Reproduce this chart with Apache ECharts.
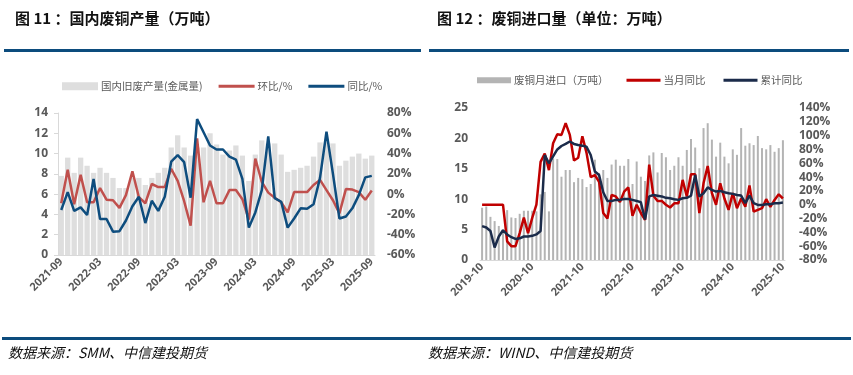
<!DOCTYPE html>
<html>
<head>
<meta charset="utf-8">
<script src="https://cdn.jsdelivr.net/npm/echarts@6/dist/echarts.min.js"></script>
<style>
html,body{margin:0;padding:0;background:#fff;}
#main{width:853px;height:375px;}
</style>
</head>
<body>
<div id="main"></div>
<script>
// month labels
function months(y, m, n) {
    var out = [];
    for (var i = 0; i < n; i++) {
        out.push(y + '-' + (m < 10 ? '0' + m : m));
        m++;
        if (m > 12) { m = 1; y++; }
    }
    return out;
}

// 图11 国内废铜产量 2021-09 ~ 2025-09
var prodMonths = months(2021, 9, 49);
var prodVolume = [7.8, 9.6, 8.1, 9.6, 8.8, 8.1, 8.6, 8.1, 7.6, 6.6, 6.6, 7.6, 7.6, 6.9, 7.6, 8.1, 8.6,
    10.6, 11.8, 10.6, 9.8, 10.6, 10.6, 12.0, 10.9, 9.9, 10.3, 10.8, 9.8, 7.3, 9.9, 11.3, 11.0, 11.0,
    9.9, 8.2, 8.4, 8.6, 8.8, 9.7, 11.1, 11.1, 11.0, 8.8, 9.3, 9.7, 10.0, 9.5, 9.8];
var prodMoM = [-9, 24, -10, 19, -8, -8, 6, -5.5, -6, -13.5, -1, 22.5, -3, -9, 10, 7, 7, 25, 13, -7,
    -31, 55, -8, 13, -9, -9, 4, 4, -5, -25, 35, 12, 1.5, -3.5, -8, -18, 2, 2, 2, 9, 14, 4, -6, -19,
    5, 4.5, 2, -5.5, 3.5];
var prodYoY = [-15.6, 2, -16.5, -13, -20.5, 15, -24.5, -24.5, -37, -36.5, -26, -12, -2.5, -28.5,
    -6.5, -16.5, -2.5, 32, 38.5, 31.5, -3.5, 74, 61, 48, 44, 44, 37, 34, 15, -33, -18, 4, 57, -4,
    -7.5, -33, -24, -14, -14.5, -10, 16, 61.5, 20, -24, -22, -14, -1, 16.5, 18];

// 图12 废铜进口量 2019-10 ~ 2025-10
var importMonths = months(2019, 10, 73);
var importVolume = [8.6, 8.8, 7.1, 6.4, 5.6, 5.0, 8.2, 7.0, 6.9, 7.6, 8.1, 8.1, 8.1, 8.0, 10.8,
    11.2, 8.0, 16.7, 16.6, 13.7, 14.8, 14.8, 12.8, 13.5, 13.3, 12.0, 12.5, 16.5, 14.3, 14.8, 13.5,
    15.7, 16.5, 15.5, 15.5, 16.6, 12.5, 16.2, 13.7, 13.0, 17.2, 17.7, 14.4, 17.6, 16.9, 14.8, 15.5,
    16.9, 15.5, 18.1, 19.9, 18.5, 15.1, 21.7, 22.5, 19.8, 17.0, 19.3, 17.0, 15.9, 18.2, 17.3, 21.7,
    18.8, 19.2, 18.9, 20.4, 18.4, 18.2, 18.9, 17.8, 18.4, 19.7];
var importMonthYoY = [0, 0, 0, 0, 0, 0, -53, -60, -60, -41, -18.6, -41, -19, 0, 62, 74, 50, 89,
    102, 101, 118, 101, 64, 68, 99, 75, 40, 43, 33, -12, -20, 14, 12, 4, 19, 25, -16, 0, -12, -22,
    58, 13, 5.5, 5.5, 0, -4, 2, 2, 36, 12, 44, 44, -12, 31, 56, 17, 0, 31, 9, -7.5, 17, -5, 9, -3,
    28, -10, -7.5, -5, 8, -3, 7, 15, 9];
var importCumYoY = [-31, -33, -38, -62, -46, -37, -43, -47, -49.5, -48.6, -46, -46, -45, -43, -38,
    72, 60, 70, 80, 85, 88, 91.5, 88, 86.5, 85.5, 84, 72, 48, 43, 18, 5.5, 5.5, 7, 7, 8.4, 8.4, 7,
    5.5, 3.6, -21.5, 12, 14, 13, 12, 10, 9.4, 8, 7, 9.4, 10, 13, 43, 12, 16.6, 25, 21.5, 19, 20, 18,
    16.6, 15.7, 14.2, 13.3, 2.2, 13.3, 2.2, -0.3, -0.3, 0.7, 0.7, 2.2, 2.2, 3.1];

var labelColor = '#595959';
var numFont = 'Open Sans';
var axisGray = '#d9d9d9';
var ruleBlue = '#0c4c7d';
// flat line swatch for legend
var lineIcon = 'path://M0 0H34V3H0Z';

var myChart = echarts.init(document.getElementById('main'));

var option = {
    animation: false,
    backgroundColor: '#fff',
    textStyle: {fontFamily: 'Noto Sans CJK SC'},
    graphic: [
        {type: 'text', left: 15, top: 11,
            style: {text: '图 11 ：国内废铜产量（万吨）', font: 'bold 15px "Noto Sans CJK SC"', fill: '#111'}},
        {type: 'text', left: 437, top: 11,
            style: {text: '图 12 ：废铜进口量（单位：万吨）', font: 'bold 15px "Noto Sans CJK SC"', fill: '#111'}},
        {type: 'rect', shape: {x: 4, y: 49, width: 417, height: 3}, style: {fill: ruleBlue}},
        {type: 'rect', shape: {x: 429, y: 49, width: 420, height: 3}, style: {fill: ruleBlue}},
        {type: 'rect', shape: {x: 2, y: 337, width: 849, height: 3}, style: {fill: ruleBlue}},
        {type: 'text', left: 8, top: 346,
            style: {text: '数据来源：SMM、中信建投期货', font: 'italic 14px "Noto Sans CJK SC"', fill: '#111'}},
        {type: 'text', left: 428, top: 346,
            style: {text: '数据来源：WIND、中信建投期货', font: 'italic 14px "Noto Sans CJK SC"', fill: '#111'}}
    ],
    legend: [
        {
            left: 57, top: 76,
            itemWidth: 36, itemHeight: 8, itemGap: 16,
            textStyle: {fontSize: 10.5, color: labelColor, padding: [0, 0, 0, -2]},
            data: [
                {name: '国内旧废产量(金属量)', icon: 'rect'},
                {name: '环比/%', icon: lineIcon},
                {name: '同比/%', icon: lineIcon}
            ]
        },
        {
            left: 472, top: 70,
            itemWidth: 34, itemHeight: 6, itemGap: 18,
            textStyle: {fontSize: 10.5, color: labelColor, padding: [0, 0, 0, -2]},
            data: [
                {name: '废铜月进口（万吨）', icon: 'rect'},
                {name: '当月同比', icon: lineIcon},
                {name: '累计同比', icon: lineIcon}
            ]
        }
    ],
    grid: [
        {left: 58, top: 113, width: 317, height: 142},
        {left: 480, top: 108, width: 305, height: 152}
    ],
    xAxis: [
        {
            type: 'category', gridIndex: 0, data: prodMonths,
            axisLine: {lineStyle: {color: axisGray}},
            axisTick: {interval: 5, length: 4, lineStyle: {color: axisGray}},
            axisLabel: {interval: 5, rotate: 45, fontSize: 11, fontWeight: 'bold',
                fontFamily: numFont, color: labelColor, margin: 5}
        },
        {
            type: 'category', gridIndex: 1, data: importMonths,
            axisLine: {lineStyle: {color: axisGray}},
            axisTick: {interval: 11, length: 4, lineStyle: {color: axisGray}},
            axisLabel: {interval: 11, rotate: 45, fontSize: 11, fontWeight: 'bold',
                fontFamily: numFont, color: labelColor, margin: 5}
        }
    ],
    yAxis: [
        {
            type: 'value', gridIndex: 0, min: 0, max: 14, interval: 2,
            axisLine: {show: true, lineStyle: {color: axisGray}},
            axisTick: {show: true, length: 4, lineStyle: {color: axisGray}},
            splitLine: {show: false},
            axisLabel: {fontSize: 12, fontWeight: 'bold', fontFamily: numFont, color: labelColor, margin: 10}
        },
        {
            type: 'value', gridIndex: 0, min: -60, max: 80, interval: 20, position: 'right',
            axisLine: {show: false}, axisTick: {show: false}, splitLine: {show: false},
            axisLabel: {formatter: '{value}%', fontSize: 12, fontWeight: 'bold', fontFamily: numFont,
                color: labelColor, margin: 12}
        },
        {
            type: 'value', gridIndex: 1, min: 0, max: 25, interval: 5,
            axisLine: {show: false}, axisTick: {show: false}, splitLine: {show: false},
            axisLabel: {fontSize: 12, fontWeight: 'bold', fontFamily: numFont, color: labelColor, margin: 12}
        },
        {
            type: 'value', gridIndex: 1, min: -80, max: 140, interval: 20, position: 'right',
            axisLine: {show: false}, axisTick: {show: false}, splitLine: {show: false},
            axisLabel: {formatter: '{value}%', fontSize: 12, fontWeight: 'bold', fontFamily: numFont,
                color: labelColor, margin: 14}
        }
    ],
    series: [
        {name: '国内旧废产量(金属量)', type: 'bar', xAxisIndex: 0, yAxisIndex: 0,
            data: prodVolume, barWidth: '82%', itemStyle: {color: '#dedede'}},
        {name: '环比/%', type: 'line', xAxisIndex: 0, yAxisIndex: 1, data: prodMoM,
            symbol: 'none', lineStyle: {width: 2.5, color: '#c0504d'}, itemStyle: {color: '#c0504d'}},
        {name: '同比/%', type: 'line', xAxisIndex: 0, yAxisIndex: 1, data: prodYoY,
            symbol: 'none', lineStyle: {width: 2.5, color: '#0e4d7e'}, itemStyle: {color: '#0e4d7e'}},
        {name: '废铜月进口（万吨）', type: 'bar', xAxisIndex: 1, yAxisIndex: 2,
            data: importVolume, barWidth: 2, itemStyle: {color: '#b4b4b4'}},
        {name: '当月同比', type: 'line', xAxisIndex: 1, yAxisIndex: 3, data: importMonthYoY,
            symbol: 'none', lineStyle: {width: 2.5, color: '#c00000'}, itemStyle: {color: '#c00000'}},
        {name: '累计同比', type: 'line', xAxisIndex: 1, yAxisIndex: 3, data: importCumYoY,
            symbol: 'none', lineStyle: {width: 2.5, color: '#1b2b4a'}, itemStyle: {color: '#1b2b4a'}}
    ]
};

myChart.setOption(option);
</script>
</body>
</html>
